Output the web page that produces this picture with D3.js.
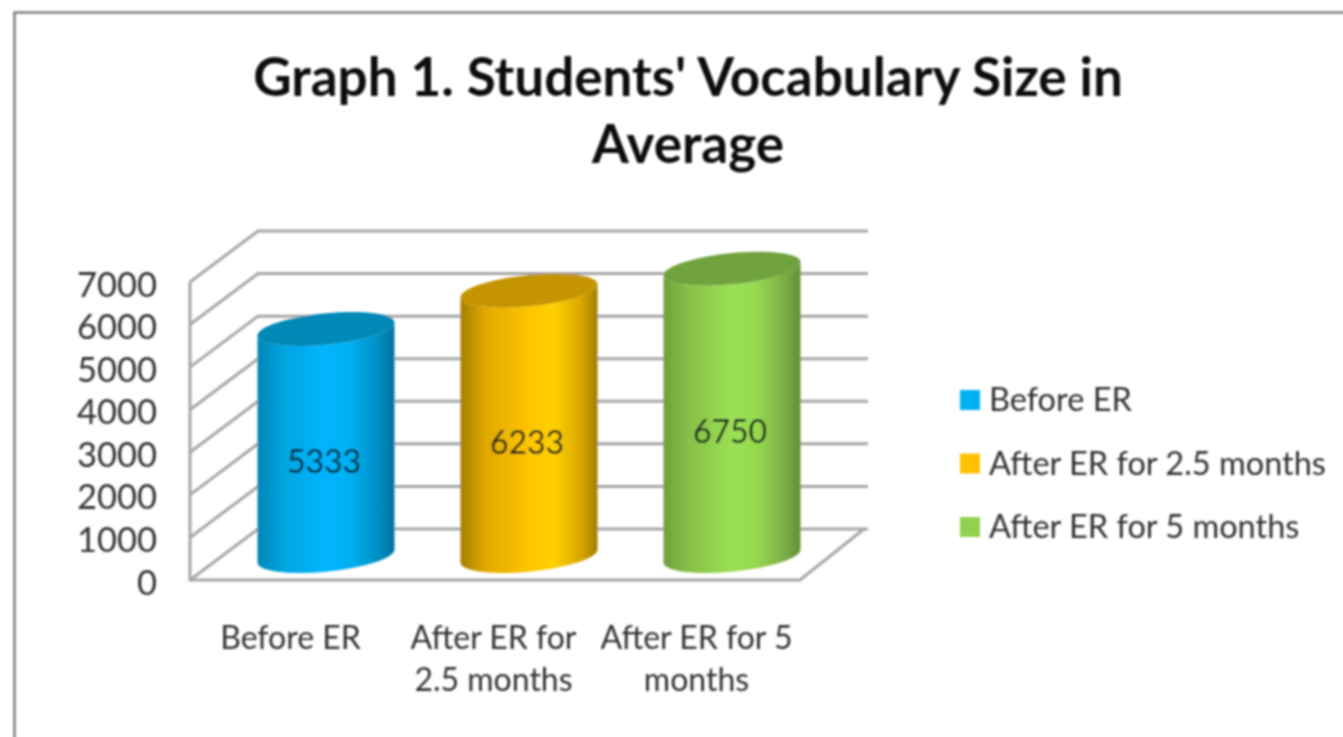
<!DOCTYPE html>
<html>
<head>
<meta charset="utf-8">
<script src="https://cdn.jsdelivr.net/npm/d3@7"></script>
<style>
  html, body { margin: 0; padding: 0; background: #fff; overflow: hidden; }
  text { font-family: Lato, "Open Sans", sans-serif; }
</style>
</head>
<body>
<div id="chart"></div>
<script>
const titleLines = ["Graph 1. Students' Vocabulary Size in", "Average"];
const categories = ["Before ER", "After ER for 2.5 months", "After ER for 5 months"];
const values = [5333, 6233, 6750];
const yTicks = [0, 1000, 2000, 3000, 4000, 5000, 6000, 7000];

// side gradient stops, left to right, one list per bar
const sideStops = [
    ["#0685b8", "#05a4df", "#00b5ff", "#00aff2", "#008fc4", "#00739c"],
    ["#a67f00", "#e0a800", "#ffc400", "#ffd000", "#d9a600", "#a37c00"],
    ["#6f9f3c", "#86bf48", "#9be054", "#96d950", "#7cae44", "#648f38"]
];
const stopOffsets = [0, 0.18, 0.5, 0.68, 0.88, 1];
const topColors = ["#0688b6", "#c49500", "#70a33c"];
const legendColors = ["#00b0f0", "#ffc000", "#92d050"];

const width = 1343, height = 737;
const depth = {x: 68, y: -51};   // front to back offset of the 3d box
const wallRight = 868;

const svg = d3.select("#chart").append("svg")
    .attr("width", width)
    .attr("height", height)
    .style("display", "block");

const defs = svg.append("defs");
defs.append("filter").attr("id", "soft")
    .attr("x", "-2%").attr("y", "-2%").attr("width", "104%").attr("height", "104%")
    .append("feGaussianBlur").attr("stdDeviation", 1);

sideStops.forEach((stops, i) => {
    const g = defs.append("linearGradient").attr("id", "side" + i);
    stops.forEach((c, j) => g.append("stop").attr("offset", stopOffsets[j]).attr("stop-color", c));
});

const root = svg.append("g").attr("filter", "url(#soft)");

// outer frame, only top and left are in the picture
root.append("path")
    .attr("d", `M14.5,${height + 10} V12.5 H${width + 10}`)
    .attr("fill", "none")
    .attr("stroke", "#7f7f7f")
    .attr("stroke-width", 2.5);

root.append("g").selectAll("text")
    .data(titleLines)
    .join("text")
    .attr("x", 688)
    .attr("y", (d, i) => 96 + i * 67)
    .attr("text-anchor", "middle")
    .style("font-size", "53px")
    .style("font-weight", "bold")
    .style("fill", "#111")
    .text(d => d);

const x = d3.scaleBand().domain(categories).range([189, 798]);
const y = d3.scaleLinear().domain([0, 7000]).range([580, 282]);

// walls and floor
const grid = root.append("g")
    .attr("fill", "none")
    .attr("stroke", "#a6a6a6")
    .attr("stroke-width", 3);

grid.selectAll("path.wall")
    .data(yTicks)
    .join("path")
    .attr("class", "wall")
    .attr("d", d => `M190,${y(d)} L${190 + depth.x},${y(d) + depth.y} H${wallRight}`);

grid.append("path").attr("d", `M190,${y(7000)} V${y(0)} H800 L${wallRight - 4},${y(0) + depth.y}`);

// cylinders, drawn in a sheared group so that the ellipses tilt
const rx = 68.5, ry = 15.7, shear = -0.095;
const cylBase = y(0) - 24;
const cylScale = d => y(0) - y(d);

const cyl = root.append("g").selectAll("g")
    .data(values)
    .join("g")
    .attr("transform", (d, i) => `matrix(1,${shear},0,1,${x(categories[i]) + x.bandwidth() / 2 + 35.5},0)`);

cyl.append("path")
    .attr("fill", (d, i) => `url(#side${i})`)
    .attr("d", d => {
        const top = cylBase - cylScale(d);
        return `M${-rx},${top} L${-rx},${cylBase} A${rx},${ry} 0 0 0 ${rx},${cylBase} L${rx},${top} A${rx},${ry} 0 0 1 ${-rx},${top} Z`;
    });

cyl.append("ellipse")
    .attr("cx", 0)
    .attr("cy", d => cylBase - cylScale(d))
    .attr("rx", rx)
    .attr("ry", ry)
    .attr("fill", (d, i) => topColors[i]);

root.append("g").selectAll("text")
    .data(values)
    .join("text")
    .attr("x", (d, i) => x(categories[i]) + x.bandwidth() / 2 + 33.5)
    .attr("y", d => cylBase - cylScale(d) / 2 + 19)
    .attr("dy", "0.35em")
    .attr("text-anchor", "middle")
    .style("font-size", "32px")
    .style("fill", "#06181e")
    .text(d => d);

// axes
const yAxis = root.append("g")
    .attr("transform", "translate(166,3)")
    .call(d3.axisLeft(y).tickValues(yTicks).tickSize(0).tickPadding(9).tickFormat(d3.format("d")));
yAxis.select(".domain").remove();
yAxis.selectAll("text").style("font-size", "34.5px").style("fill", "#333");

const xAxis = root.append("g")
    .attr("transform", "translate(0,612)")
    .call(d3.axisBottom(x).tickSize(0).tickPadding(0));
xAxis.select(".domain").remove();
xAxis.selectAll("text")
    .attr("dy", null)
    .style("font-size", "32px")
    .style("fill", "#333")
    .each(function(d) {
        // wrap like the original axis labels
        const t = d3.select(this).text(null);
        let line = [], row = 0;
        let span = t.append("tspan").attr("x", 0).attr("y", 37);
        d.split(" ").forEach(w => {
            line.push(w);
            span.text(line.join(" "));
            if (span.node().getComputedTextLength() > 195 && line.length > 1) {
                line.pop();
                span.text(line.join(" "));
                line = [w];
                row += 1;
                span = t.append("tspan").attr("x", 0).attr("y", 37 + row * 42).text(w);
            }
        });
    });

// legend
const legendRow = root.append("g").selectAll("g")
    .data(categories)
    .join("g")
    .attr("transform", (d, i) => `translate(960,${400 + i * 63.5})`);

legendRow.append("rect")
    .attr("x", 0).attr("y", -10)
    .attr("width", 20).attr("height", 20)
    .attr("fill", (d, i) => legendColors[i]);

legendRow.append("text")
    .attr("x", 29)
    .attr("dy", "0.35em")
    .style("font-size", "32.5px")
    .style("fill", "#333")
    .text(d => d);
</script>
</body>
</html>
